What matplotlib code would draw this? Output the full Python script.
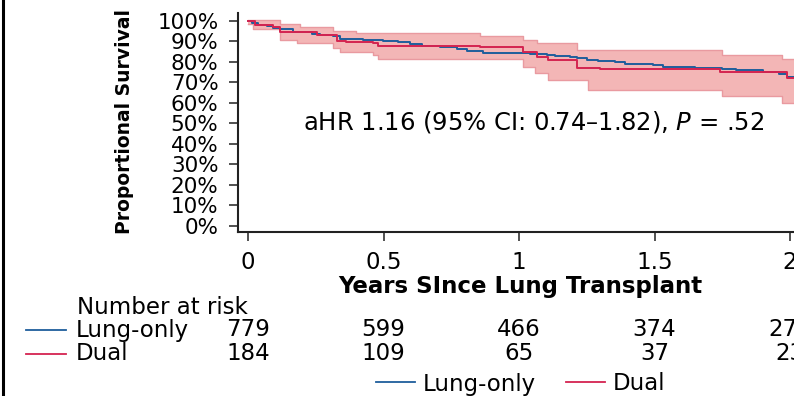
import matplotlib
matplotlib.use("Agg")
import matplotlib.pyplot as plt
from matplotlib.lines import Line2D
from matplotlib.transforms import blended_transform_factory
import numpy as np

plt.rcParams['font.family'] = ['DejaVu Sans']

# ---- data ----
lung_t = [0, 0.015, 0.037, 0.07, 0.094, 0.118, 0.166, 0.235, 0.266, 0.314, 0.339, 0.425,
          0.498, 0.554, 0.598, 0.641, 0.708, 0.77, 0.807, 0.867, 1.04, 1.103, 1.133, 1.188,
          1.214, 1.25, 1.29, 1.354, 1.39, 1.494, 1.531, 1.65, 1.75, 1.80, 1.90, 1.96, 1.99, 2.05]
lung_s = [1.0, 0.99, 0.978, 0.972, 0.964, 0.958, 0.946, 0.934, 0.929, 0.925, 0.912, 0.907,
          0.903, 0.894, 0.886, 0.879, 0.870, 0.861, 0.853, 0.845, 0.840, 0.834, 0.828, 0.822,
          0.816, 0.811, 0.805, 0.800, 0.790, 0.782, 0.776, 0.769, 0.765, 0.758, 0.752, 0.742, 0.728, 0.728]

dual_t = [0, 0.026, 0.094, 0.118, 0.253, 0.327, 0.36, 0.461, 0.48, 0.856, 1.015, 1.066,
          1.107, 1.214, 1.30, 1.742, 1.99, 2.05]
dual_s = [1.0, 0.978, 0.967, 0.946, 0.929, 0.902, 0.898, 0.889, 0.879, 0.873, 0.848, 0.821,
          0.811, 0.770, 0.767, 0.748, 0.719, 0.719]

ci_t = [0, 0.02, 0.118, 0.18, 0.192, 0.314, 0.339, 0.40, 0.461, 0.48, 0.856, 1.015, 1.059,
        1.066, 1.107, 1.214, 1.255, 1.748, 1.969, 2.05]
ci_hi = [1.004, 1.004, 0.986, 0.986, 0.967, 0.950, 0.950, 0.938, 0.938, 0.938, 0.925, 0.905, 0.905,
         0.889, 0.889, 0.858, 0.858, 0.832, 0.813, 0.813]
ci_lo = [0.985, 0.962, 0.905, 0.889, 0.889, 0.865, 0.849, 0.849, 0.832, 0.815, 0.815, 0.775, 0.743,
         0.743, 0.710, 0.710, 0.662, 0.633, 0.597, 0.597]

x_ticks = [0, 0.5, 1, 1.5, 2]
x_ticklabels = ["0", "0.5", "1", "1.5", "2"]
y_ticks = [i / 10 for i in range(11)]
y_ticklabels = [f"{i * 10}%" for i in range(11)]

groups = ["Lung-only", "Dual"]
risk_lung = [779, 599, 466, 374, 274]
risk_dual = [184, 109, 65, 37, 23]

blue = '#1f5e9c'
red = '#d42350'
fill_c = '#f3b6b6'
edge_c = '#e99aa0'

W, H = 794, 396
fig = plt.figure(figsize=(W / 100, H / 100), dpi=100)
ax = fig.add_axes([238 / W, (H - 232) / H, 560 / W, 219 / H])

ax.fill_between(ci_t, ci_lo, ci_hi, step='post', facecolor=fill_c, edgecolor='none', zorder=1)
ax.step(ci_t, ci_hi, where='post', color=edge_c, lw=1.0, zorder=2)
ax.step(ci_t, ci_lo, where='post', color=edge_c, lw=1.0, zorder=2)
ax.step(lung_t, lung_s, where='post', color=blue, lw=1.4, zorder=3)
ax.step(dual_t, dual_s, where='post', color=red, lw=1.4, zorder=4)

ax.set_xlim(-0.0369, 2.0295)
ax.set_ylim(-0.0292, 1.0375)
ax.set_xticks(x_ticks)
ax.set_xticklabels(x_ticklabels, fontsize=16.5)
ax.set_yticks(y_ticks)
ax.set_yticklabels(y_ticklabels, fontsize=15.5)
for s in ['top', 'right']:
    ax.spines[s].set_visible(False)
for s in ['left', 'bottom']:
    ax.spines[s].set_linewidth(1.5)
    ax.spines[s].set_color('#222222')
ax.tick_params(axis='both', length=6.5, width=1.1, color='#222222')
ax.tick_params(axis='y', pad=7.5)
ax.tick_params(axis='x', pad=7.5)

ax.set_ylabel("Proportional Survival", fontsize=13.5, fontweight='bold')
ax.yaxis.set_label_coords(-0.2018, 0.505)
ax.yaxis.label.set_verticalalignment('center')
ax.set_xlabel("Years SInce Lung Transplant", fontsize=16.5, fontweight='bold')
ax.xaxis.set_label_coords(0.5036, -0.251)
ax.xaxis.label.set_verticalalignment('center')

ax.text((534 - 248) / 271, (226 - 122) / 205.5,
        "aHR 1.16 (95% CI: 0.74\u20131.82), $\\mathit{P}$ = .52",
        fontsize=17.5, ha='center', va='center', zorder=5)

# number at risk table
tr = blended_transform_factory(ax.transData, fig.transFigure)
fig.text(77 / W, (H - 307) / H, "Number at risk", fontsize=16.5, ha='left', va='center')
row_y = [(H - 330) / H, (H - 354) / H]
for lab, yy, col, vals in zip(groups, row_y, [blue, red], [risk_lung, risk_dual]):
    fig.add_artist(Line2D([26 / W, 66 / W], [yy, yy], color=col, lw=1.3))
    fig.text(76 / W, yy, lab, fontsize=16.5, ha='left', va='center')
    for xt, v in zip(x_ticks, vals):
        ax.text(xt, yy, str(v), fontsize=16.5, ha='center', va='center',
                transform=tr, clip_on=False)

handles = [Line2D([], [], color=blue, lw=1.3), Line2D([], [], color=red, lw=1.3)]
fig.legend(handles, groups, loc='center', bbox_to_anchor=(520.5 / W, (H - 384) / H),
           ncol=2, frameon=False, fontsize=16.5, handlelength=1.7, handletextpad=0.35,
           columnspacing=1.3, borderpad=0, borderaxespad=0)

# left border line
fig.add_artist(Line2D([2.5 / W, 2.5 / W], [0, 1], color='black', lw=2.2))

fig.savefig("out.png", dpi=100)
